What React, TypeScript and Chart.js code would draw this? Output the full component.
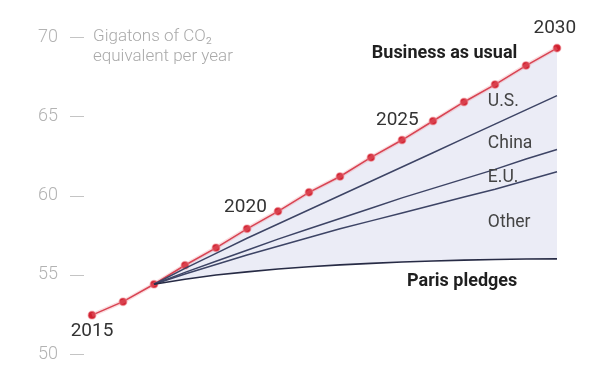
import React, { useEffect, useRef } from "react";
import { Chart, registerables } from "chart.js";

Chart.register(...registerables);

const years = [2015, 2016, 2017, 2018, 2019, 2020, 2021, 2022, 2023, 2024, 2025, 2026, 2027, 2028, 2029, 2030];
const businessAsUsual = [52.45, 53.3, 54.4, 55.6, 56.7, 57.9, 59.0, 60.2, 61.2, 62.4, 63.5, 64.7, 65.9, 67.0, 68.2, 69.3];
const usLine = [null, null, 54.4, 55.4, 56.35, 57.3, 58.2, 59.1, 60.0, 60.9, 61.8, 62.7, 63.6, 64.5, 65.4, 66.3];
const chinaLine = [null, null, 54.4, 55.15, 55.85, 56.55, 57.25, 57.9, 58.55, 59.2, 59.85, 60.45, 61.05, 61.65, 62.3, 62.9];
const euLine = [null, null, 54.4, 55.05, 55.65, 56.25, 56.8, 57.35, 57.9, 58.4, 58.9, 59.4, 59.9, 60.4, 60.95, 61.5];
const parisPledges = [null, null, 54.4, 54.72, 54.98, 55.18, 55.36, 55.5, 55.62, 55.72, 55.8, 55.87, 55.92, 55.96, 55.99, 56.0];
const yTicks = [50, 55, 60, 65, 70];
const yearLabels = [
  { text: "2015", x: 2015, y: 51.45 },
  { text: "2020", x: 2019.95, y: 59.25 },
  { text: "2025", x: 2024.85, y: 64.75 },
  { text: "2030", x: 2029.93, y: 70.55 },
];
const seriesLabels = [
  { text: "U.S.", x: 2027.77, y: 65.95 },
  { text: "China", x: 2027.77, y: 63.3 },
  { text: "E.U.", x: 2027.77, y: 61.1 },
  { text: "Other", x: 2027.77, y: 58.3 },
];
const boldLabels = [
  { text: "Business as usual", x: 2028.72, y: 68.95 },
  { text: "Paris pledges", x: 2028.72, y: 54.6 },
];
const axisTitle = ["Gigatons of CO\u2082", "equivalent per year"];

const FONT = "Roboto, 'Liberation Sans', sans-serif";

const toXY = (arr: (number | null)[]) => arr.map((v, i) => ({ x: years[i], y: v }));

const textPlugin = {
  id: "texts",
  afterDatasetsDraw(chart: any) {
    const { ctx, scales } = chart;
    const xs = scales.x;
    const ys = scales.y;
    ctx.save();
    // y ticks
    ctx.font = `300 18px ${FONT}`;
    ctx.fillStyle = "#b3b3b3";
    ctx.textAlign = "right";
    ctx.textBaseline = "middle";
    ctx.strokeStyle = "#c4c4c4";
    ctx.lineWidth = 1;
    yTicks.forEach((t) => {
      const py = ys.getPixelForValue(t);
      ctx.fillText(String(t), 58, py);
      ctx.beginPath();
      ctx.moveTo(70, Math.round(py) + 0.5);
      ctx.lineTo(84, Math.round(py) + 0.5);
      ctx.stroke();
    });
    // axis title
    ctx.textAlign = "left";
    ctx.font = `300 17px ${FONT}`;
    ctx.fillStyle = "#aaaaaa";
    const p70 = ys.getPixelForValue(70);
    ctx.fillText(axisTitle[0], 93, p70);
    ctx.fillText(axisTitle[1], 93, p70 + 20);
    // year labels
    ctx.font = `400 19px ${FONT}`;
    ctx.fillStyle = "#333333";
    ctx.textAlign = "center";
    yearLabels.forEach((l) => {
      ctx.fillText(l.text, xs.getPixelForValue(l.x), ys.getPixelForValue(l.y));
    });
    // series labels
    ctx.font = `400 17.5px ${FONT}`;
    ctx.fillStyle = "#444444";
    ctx.textAlign = "left";
    seriesLabels.forEach((l) => {
      ctx.fillText(l.text, xs.getPixelForValue(l.x), ys.getPixelForValue(l.y));
    });
    // bold labels
    ctx.font = `700 18px ${FONT}`;
    ctx.fillStyle = "#1f1f1f";
    ctx.textAlign = "right";
    boldLabels.forEach((l) => {
      ctx.fillText(l.text, xs.getPixelForValue(l.x), ys.getPixelForValue(l.y));
    });
    ctx.restore();
  },
};

export default function App() {
  const ref = useRef<HTMLCanvasElement | null>(null);
  useEffect(() => {
    document.body.style.margin = "0";
    if (!ref.current) return;
    const chart = new Chart(ref.current, {
      type: "line",
      data: {
        datasets: [
          {
            label: "Paris pledges",
            data: toXY(parisPledges),
            borderColor: "#272b45",
            borderWidth: 1.6,
            pointRadius: 0,
            fill: { target: 5 },
            backgroundColor: "#ebecf6",
            clip: false,
          },
          {
            label: "E.U.",
            data: toXY(euLine),
            borderColor: "#3d4465",
            borderWidth: 1.5,
            pointRadius: 0,
            fill: false,
            clip: false,
          },
          {
            label: "China",
            data: toXY(chinaLine),
            borderColor: "#3d4465",
            borderWidth: 1.5,
            pointRadius: 0,
            fill: false,
            clip: false,
          },
          {
            label: "U.S.",
            data: toXY(usLine),
            borderColor: "#3d4465",
            borderWidth: 1.5,
            pointRadius: 0,
            fill: false,
            clip: false,
          },
          {
            label: "halo",
            data: toXY(businessAsUsual),
            borderColor: "rgba(240,140,150,0.3)",
            borderWidth: 4,
            pointRadius: 0,
            fill: false,
            clip: false,
          },
          {
            label: "Business as usual",
            data: toXY(businessAsUsual),
            borderColor: "#cf2435",
            borderWidth: 1.5,
            pointRadius: 3.8,
            pointBackgroundColor: "#d0202f",
            pointBorderColor: "rgba(240,130,140,0.45)",
            pointBorderWidth: 1.5,
            fill: false,
            clip: false,
          },
        ],
      },
      options: {
        animation: false,
        responsive: false,
        maintainAspectRatio: false,
        layout: { padding: { left: 92, right: 43, top: 37, bottom: 31 } },
        plugins: {
          legend: { display: false },
          tooltip: { enabled: false },
          filler: { drawTime: "beforeDatasetsDraw" },
        },
        scales: {
          x: { type: "linear", min: 2015, max: 2030, display: false },
          y: { type: "linear", min: 50, max: 70, display: false },
        },
      },
      plugins: [textPlugin],
    });
    return () => chart.destroy();
  }, []);
  return (
    <div style={{ width: 600, height: 385, position: "relative" }}>
      <canvas ref={ref} width={600} height={385} style={{ width: 600, height: 385 }} />
    </div>
  );
}
